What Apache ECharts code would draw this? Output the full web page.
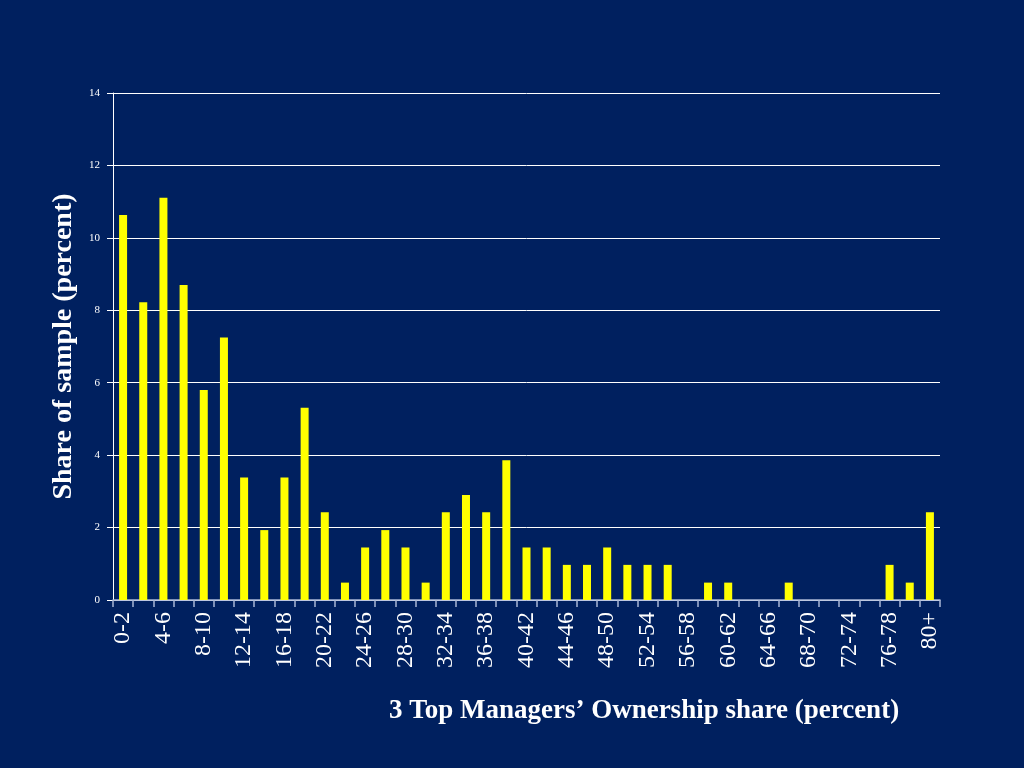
<!DOCTYPE html>
<html>
<head>
<meta charset="utf-8">
<script src="https://cdn.jsdelivr.net/npm/echarts@6/dist/echarts.min.js"></script>
<style>
html,body{margin:0;padding:0;background:#00205f;}
#chart{width:1024px;height:768px;}
</style>
</head>
<body>
<div id="chart"></div>
<script>
var categories = ['0-2','2-4','4-6','6-8','8-10','10-12','12-14','14-16','16-18','18-20',
  '20-22','22-24','24-26','26-28','28-30','30-32','32-34','34-36','36-38','38-40',
  '40-42','42-44','44-46','46-48','48-50','50-52','52-54','54-56','56-58','58-60',
  '60-62','62-64','64-66','66-68','68-70','70-72','72-74','74-76','76-78','78-80','80+'];
var shares = [10.63,8.22,11.11,8.7,5.8,7.25,3.38,1.93,3.38,5.31,
  2.42,0.48,1.45,1.93,1.45,0.48,2.42,2.9,2.42,3.86,
  1.45,1.45,0.97,0.97,1.45,0.97,0.97,0.97,0,0.48,
  0.48,0,0,0.48,0,0,0,0,0.97,0.48,2.42];
var yTicks = [0,2,4,6,8,10,12,14];
var xTitle = '3 Top Managers\u2019 Ownership share (percent)';
var yTitle = 'Share of sample (percent)';

var chart = echarts.init(document.getElementById('chart'));
var serif = '"Liberation Serif","DejaVu Serif",serif';
chart.setOption({
  backgroundColor: '#00205f',
  animation: false,
  title: {
    text: xTitle,
    left: 639, top: 693,
    textAlign: 'center',
    textStyle: {color: '#ffffff', fontFamily: serif, fontWeight: 'bold', fontSize: 27}
  },
  grid: {left: 113, right: 84, top: 93, bottom: 168, containLabel: false},
  xAxis: {
    type: 'category',
    data: categories,
    axisLine: {lineStyle: {color: '#a9b6d6', width: 1.5}},
    axisTick: {show: true, interval: 0, length: 7, lineStyle: {color: '#a9b6d6', width: 1.5}},
    axisLabel: {interval: 1, rotate: 90, margin: 12, color: '#ffffff', fontFamily: serif, fontSize: 24}
  },
  yAxis: {
    type: 'value',
    min: yTicks[0], max: yTicks[yTicks.length - 1], interval: 2,
    name: yTitle,
    nameLocation: 'middle',
    nameGap: 29,
    nameTextStyle: {color: '#ffffff', fontFamily: serif, fontWeight: 'bold', fontSize: 28},
    axisLine: {show: true, lineStyle: {color: '#ffffff', width: 1}},
    axisTick: {show: true, length: 6, lineStyle: {color: '#ffffff'}},
    axisLabel: {color: '#ffffff', fontFamily: serif, fontSize: 11, margin: 13},
    splitLine: {lineStyle: {color: '#ffffff', width: 1}}
  },
  series: [{
    type: 'bar',
    data: shares,
    barWidth: 8,
    itemStyle: {color: '#ffff00'}
  }]
});
</script>
</body>
</html>
